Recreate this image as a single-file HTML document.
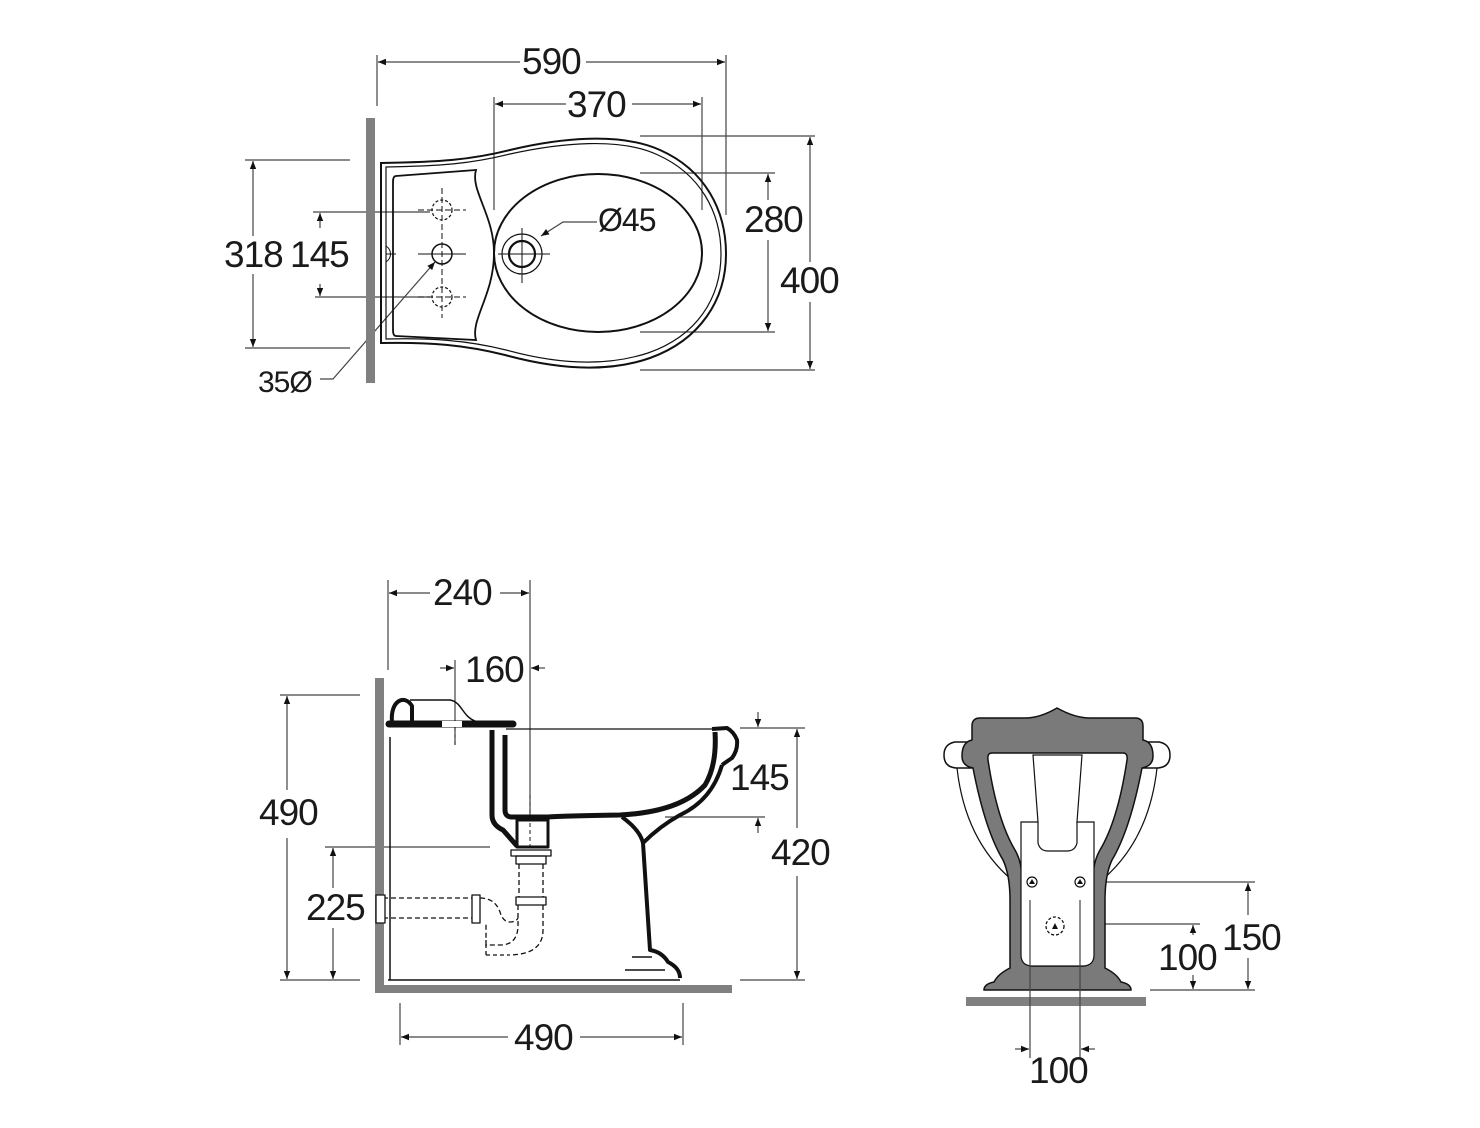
<!DOCTYPE html>
<html><head><meta charset="utf-8"><style>
html,body{margin:0;padding:0;background:#fff;}
svg{display:block;}
text{font-family:"Liberation Sans",Arial,sans-serif;font-size:37px;fill:#1a1a1a;letter-spacing:-1px;}
</style></head><body>
<svg width="1480" height="1128" viewBox="0 0 1480 1128" xmlns="http://www.w3.org/2000/svg">
<defs>
<marker id="a" viewBox="0 0 10 10" refX="10" refY="5" markerWidth="10" markerHeight="8" markerUnits="userSpaceOnUse" orient="auto-start-reverse"><path d="M0,1 L10,5 L0,9z" fill="#111"/></marker>
</defs>
<g stroke="#444" stroke-width="1.2" fill="none">
<line x1="377" y1="55" x2="377" y2="106"/><line x1="726" y1="55" x2="726" y2="215"/>
<line x1="378" y1="62" x2="520" y2="62" marker-start="url(#a)"/><line x1="586" y1="62" x2="725" y2="62" marker-end="url(#a)"/>
<line x1="494" y1="97" x2="494" y2="210"/><line x1="702" y1="97" x2="702" y2="210"/>
<line x1="495" y1="104" x2="566" y2="104" marker-start="url(#a)"/><line x1="632" y1="104" x2="701" y2="104" marker-end="url(#a)"/>
<line x1="640" y1="136" x2="815" y2="136"/><line x1="640" y1="173" x2="775" y2="173"/>
<line x1="640" y1="332" x2="775" y2="332"/><line x1="640" y1="370" x2="815" y2="370"/>
<line x1="768" y1="174" x2="768" y2="200" marker-start="url(#a)"/><line x1="768" y1="240" x2="768" y2="331" marker-end="url(#a)"/>
<line x1="810" y1="137" x2="810" y2="262" marker-start="url(#a)"/><line x1="810" y1="302" x2="810" y2="369" marker-end="url(#a)"/>
<line x1="245" y1="160" x2="350" y2="160"/><line x1="245" y1="348" x2="350" y2="348"/>
<line x1="253" y1="161" x2="253" y2="236" marker-start="url(#a)"/><line x1="253" y1="274" x2="253" y2="347" marker-end="url(#a)"/>
<line x1="313" y1="212" x2="430" y2="212"/><line x1="315" y1="297" x2="430" y2="297"/>
<line x1="320" y1="213" x2="320" y2="228" marker-start="url(#a)"/><line x1="320" y1="284" x2="320" y2="296" marker-end="url(#a)"/>
<polyline points="320,379 333,379 435,262" marker-end="url(#a)"/>
<polyline points="597,222 563,222 541,236" marker-end="url(#a)"/>
</g>
<rect x="366" y="118" width="9" height="265" fill="#808080"/>
<g stroke="#111" fill="none">
<path d="M381,163 C440,162 470,160 510,150 C560,138 620,132 660,150 C705,170 726,210 726,254 C726,300 700,340 650,358 C610,372 560,370 505,355 C465,345 430,342 381,343 Z" stroke-width="2"/>
<path d="M386,167 C440,166 470,164 510,154 C560,143 620,137 658,155 C700,174 721,212 721,254 C721,298 697,336 648,353 C608,366 560,365 506,350 C466,340 430,338 386,339 Z" stroke-width="1.2"/>
<ellipse cx="598" cy="253" rx="104" ry="79" stroke-width="2"/>
<path d="M396,176 L476,170 C470,190 494,215 494,253 C494,295 470,320 476,340 L396,336 Q393,336 393,330 L393,182 Q393,176 396,176Z" stroke-width="1.8"/>
<path d="M386,246 C392,250 392,258 386,262 M386,254 L396,254" stroke-width="1"/>
<circle cx="442" cy="254" r="10" stroke-width="1.5"/>
<circle cx="442" cy="210" r="10" stroke-width="1.2" stroke-dasharray="3,2"/>
<circle cx="442" cy="297" r="10" stroke-width="1.2" stroke-dasharray="3,2"/>
<circle cx="522" cy="254" r="13" stroke-width="2.2"/><circle cx="522" cy="254" r="20" stroke-width="1.2"/>
<g stroke-width="1"><line x1="498" y1="254" x2="550" y2="254"/><line x1="522" y1="228" x2="522" y2="283"/>
<line x1="418" y1="254" x2="466" y2="254"/><line x1="442" y1="188" x2="442" y2="318" stroke-dasharray="6,3"/>
<line x1="418" y1="210" x2="466" y2="210" stroke-dasharray="6,3"/><line x1="418" y1="297" x2="466" y2="297" stroke-dasharray="6,3"/></g>
</g>
<text x="522" y="74">590</text><text x="567" y="117">370</text>
<text x="744" y="232">280</text><text x="780" y="293">400</text>
<text x="224" y="267">318</text><text x="290" y="267">145</text>
<text x="598" y="231" style="font-size:32px">Ø45</text>
<text x="258" y="392" style="font-size:30px">35Ø</text>

<g stroke="#444" stroke-width="1.2" fill="none">
<line x1="388" y1="580" x2="388" y2="670"/><line x1="530" y1="580" x2="530" y2="820"/>
<line x1="389" y1="593" x2="430" y2="593" marker-start="url(#a)"/><line x1="500" y1="593" x2="529" y2="593" marker-end="url(#a)"/>
<line x1="455" y1="660" x2="455" y2="745"/>
<line x1="440" y1="668" x2="454" y2="668" marker-end="url(#a)"/><line x1="545" y1="668" x2="531" y2="668" marker-end="url(#a)"/>
<line x1="280" y1="695" x2="360" y2="695"/><line x1="280" y1="980" x2="360" y2="980"/>
<line x1="287" y1="696" x2="287" y2="790" marker-start="url(#a)"/><line x1="287" y1="838" x2="287" y2="979" marker-end="url(#a)"/>
<line x1="325" y1="847" x2="490" y2="847"/>
<line x1="333" y1="848" x2="333" y2="888" marker-start="url(#a)"/><line x1="333" y1="928" x2="333" y2="979" marker-end="url(#a)"/>
<line x1="740" y1="728" x2="805" y2="728"/><line x1="665" y1="817" x2="765" y2="817"/><line x1="740" y1="980" x2="805" y2="980"/>
<line x1="758" y1="712" x2="758" y2="727" marker-end="url(#a)"/><line x1="758" y1="833" x2="758" y2="818" marker-end="url(#a)"/>
<line x1="797" y1="729" x2="797" y2="828" marker-start="url(#a)"/><line x1="797" y1="876" x2="797" y2="979" marker-end="url(#a)"/>
<line x1="400" y1="1003" x2="400" y2="1045"/><line x1="683" y1="1003" x2="683" y2="1045"/>
<line x1="401" y1="1037" x2="508" y2="1037" marker-start="url(#a)"/><line x1="580" y1="1037" x2="682" y2="1037" marker-end="url(#a)"/>
<line x1="455" y1="720" x2="455" y2="745" stroke-dasharray="4,3"/>
<line x1="530" y1="795" x2="530" y2="850" stroke-dasharray="4,3"/>
</g>
<rect x="375" y="678" width="9" height="315" fill="#808080"/>
<rect x="375" y="985" width="357" height="8" fill="#808080"/>
<g stroke="#111" fill="none" stroke-linejoin="round">
<line x1="390" y1="737" x2="390" y2="980" stroke-width="1.5"/>
<line x1="388" y1="980" x2="680" y2="980" stroke-width="1.5"/>
<path d="M389,724 L513,724" stroke-width="7" stroke-linecap="round"/>
<rect x="442" y="721" width="20" height="6" fill="#fff" stroke="none"/>
<path d="M392,722 C390,700 405,694 412,706 L412,722" stroke-width="4"/>
<path d="M410,700 L450,700 C462,702 462,716 475,721" stroke-width="1.5"/>
<path d="M492,730 L492,815 Q492,825 503,830 L517,846" stroke-width="5"/>
<path d="M505,735 L505,810 Q505,817 512,817 L548,817 Q560,816 620,815 Q680,812 705,785 Q717,765 715,732" stroke-width="5"/>
<path d="M506,729 L722,729" stroke-width="1.3"/>
<path d="M712,729 L727,728 Q734,732 737,740 Q738,750 732,758 Q726,762 722,765" stroke-width="4"/>
<path d="M722,765 Q712,800 680,815 Q660,826 643,843" stroke-width="4"/>
<path d="M622,817 Q640,830 643,843 L650,950 Q662,952 668,962 Q680,968 680,978" stroke-width="4"/>
<line x1="632" y1="957" x2="652" y2="957" stroke-width="1.5"/><line x1="625" y1="970" x2="665" y2="970" stroke-width="1.5"/>
<rect x="517" y="820" width="31" height="27" stroke-width="3"/>
<g stroke-width="1.3">
<rect x="511" y="850" width="40" height="6"/><rect x="516" y="856" width="30" height="8"/>
<path d="M519,864 L519,897 M543,864 L543,897" stroke-dasharray="5,3"/>
<rect x="516" y="897" width="30" height="8"/>
<path d="M518,905 L518,925 Q518,945 500,945 L486,945 L486,922 M543,905 L543,930 Q543,955 508,955" stroke-dasharray="5,3"/>
<path d="M486,955 L486,940 M486,955 L508,955" stroke-dasharray="4,3"/>
<rect x="472" y="895" width="8" height="28"/>
<path d="M383,898 L472,898 M383,918 L472,918 M480,898 Q495,898 500,912 Q503,922 510,922 Q516,922 518,918" stroke-dasharray="5,3"/>
<rect x="376" y="895" width="9" height="28" fill="#fff"/>
</g>
</g>
<text x="433" y="605">240</text><text x="465" y="682">160</text>
<text x="259" y="825">490</text><text x="306" y="920">225</text>
<text x="730" y="790">145</text><text x="771" y="865">420</text>
<text x="514" y="1050">490</text>

<g stroke="#444" stroke-width="1.2" fill="none">
<line x1="1085" y1="882" x2="1255" y2="882"/><line x1="1150" y1="990" x2="1255" y2="990"/>
<line x1="1062" y1="924" x2="1200" y2="924"/>
<line x1="1248" y1="883" x2="1248" y2="915" marker-start="url(#a)"/><line x1="1248" y1="958" x2="1248" y2="989" marker-end="url(#a)"/>
<line x1="1193" y1="925" x2="1193" y2="935" marker-start="url(#a)"/><line x1="1193" y1="975" x2="1193" y2="989" marker-end="url(#a)"/>
</g>
<rect x="966" y="997" width="180" height="9" fill="#808080"/>
<g stroke="#111" stroke-width="1.5">
<path d="M975,742 L955,742 Q944,744 944,755 Q944,767 956,768 L975,768Z M1139,742 L1159,742 Q1170,744 1170,755 Q1170,767 1158,768 L1139,768Z" fill="#fff"/>
<path d="M957,768 Q965,840 1012,880 M1157,768 Q1149,840 1102,880" fill="none" stroke-width="1.2"/>
<path d="M1057,708 Q1040,718 1025,718 L980,718 Q972,718 972,726 L972,740 Q962,742 962,756 Q962,766 973,768 Q985,830 1003,860 Q1010,875 1010,900 L1010,968 Q998,974 994,982 Q984,984 984,990 L1131,990 Q1131,984 1121,982 Q1117,974 1105,968 L1105,900 Q1105,875 1112,860 Q1130,830 1142,768 Q1153,766 1153,756 Q1153,742 1143,740 L1143,726 Q1143,718 1135,718 L1090,718 Q1075,718 1057,708Z" fill="#7a7a7a"/>
<path d="M992,753 L1123,753 Q1128,753 1127,760 Q1118,820 1100,850 Q1093,862 1093,880 L1093,955 Q1093,965 1083,966 L1032,966 Q1022,965 1022,955 L1022,880 Q1022,862 1015,850 Q997,820 988,760 Q987,753 992,753Z" fill="#fff"/>
<path d="M1033,755 L1082,755 L1077,822 L1094,822 L1094,955 Q1094,965 1084,966 L1031,966 Q1021,965 1021,955 L1021,822 L1038,822Z" fill="#fff" stroke-width="1.2"/>
<path d="M1038,822 L1038,843 Q1040,851 1048,851 L1067,851 Q1075,851 1077,843 L1077,822" fill="none" stroke-width="1.2"/>
<circle cx="1032" cy="882" r="5" fill="#fff" stroke-width="1.2"/><circle cx="1080" cy="882" r="5" fill="#fff" stroke-width="1.2"/>
<circle cx="1055" cy="926" r="9" fill="none" stroke-width="1.3" stroke-dasharray="3,2"/>
</g>
<path d="M1029,884 l3,-5 l3,5z M1077,884 l3,-5 l3,5z M1052,929 l3,-6 l3,6z" fill="#111"/>
<g stroke="#444" stroke-width="1.2" fill="none">
<line x1="1030" y1="900" x2="1030" y2="1058"/><line x1="1080" y1="900" x2="1080" y2="1058"/>
<line x1="1015" y1="1049" x2="1029" y2="1049" marker-end="url(#a)"/><line x1="1095" y1="1049" x2="1081" y2="1049" marker-end="url(#a)"/>
</g>
<text x="1222" y="950">150</text><text x="1158" y="970">100</text><text x="1029" y="1083">100</text>
</svg>
</body></html>
